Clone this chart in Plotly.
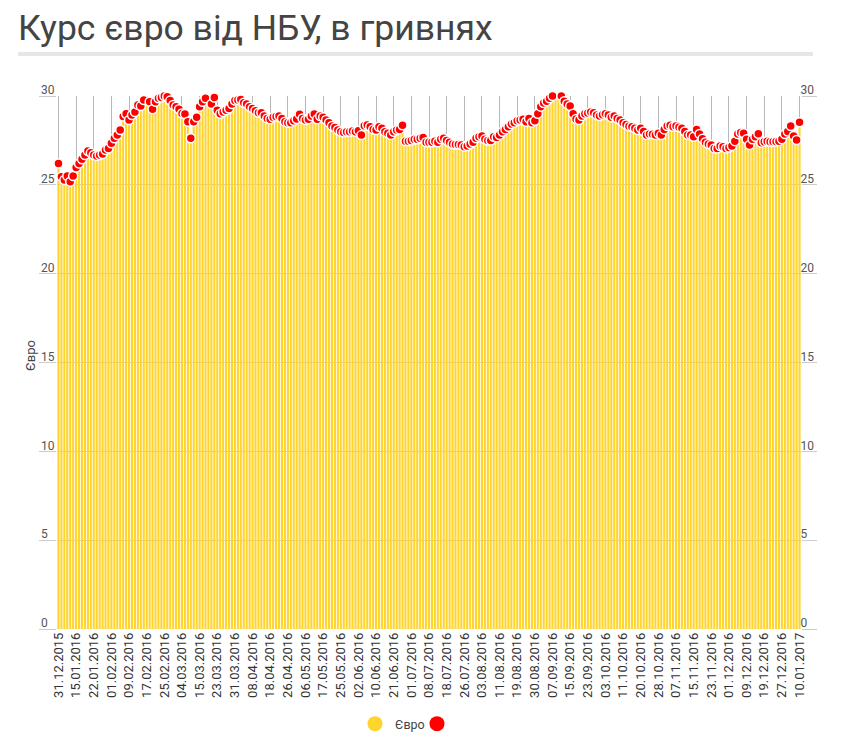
import plotly.graph_objects as go

# ---- data ----
dates_by_month = {
    "12.2015": [31],
    "01.2016": [5, 6, 11, 12, 14, 15, 16, 18, 19, 20, 21, 22, 25, 26, 27, 28, 29],
    "02.2016": [1, 2, 3, 4, 5, 8, 9, 10, 11, 12, 15, 16, 17, 18, 19, 22, 23, 24, 25, 26, 29],
    "03.2016": [1, 2, 3, 4, 7, 9, 10, 11, 14, 15, 16, 17, 18, 21, 22, 23, 24, 25, 28, 29, 30, 31],
    "04.2016": [1, 4, 5, 6, 7, 8, 11, 12, 13, 14, 15, 18, 19, 20, 21, 22, 25, 26, 27, 28, 29],
    "05.2016": [4, 5, 6, 10, 11, 12, 13, 16, 17, 18, 19, 20, 23, 24, 25, 26, 27, 30, 31],
    "06.2016": [1, 2, 3, 6, 7, 8, 9, 10, 13, 14, 15, 16, 17, 21, 22, 23, 24, 29, 30],
    "07.2016": [1, 2, 4, 5, 6, 7, 8, 11, 12, 13, 14, 15, 18, 19, 20, 21, 22, 25, 26, 27, 28, 29],
    "08.2016": [1, 2, 3, 4, 5, 8, 9, 10, 11, 12, 15, 16, 17, 18, 19, 22, 23, 25, 26, 29, 30, 31],
    "09.2016": [1, 2, 5, 6, 7, 8, 9, 12, 13, 14, 15, 16, 19, 20, 21, 22, 23, 26, 27, 28, 29, 30],
    "10.2016": [3, 4, 5, 6, 7, 10, 11, 12, 13, 17, 18, 19, 20, 21, 24, 25, 26, 27, 28, 31],
    "11.2016": [1, 2, 3, 4, 7, 8, 9, 10, 11, 14, 15, 16, 17, 18, 21, 22, 23, 24, 25, 28, 29, 30],
    "12.2016": [1, 2, 5, 6, 7, 8, 9, 12, 13, 14, 15, 16, 19, 20, 21, 22, 23, 26, 27, 28, 29, 30],
    "01.2017": [4, 5, 10],
}
dates = [f"{d:02d}.{m}" for m, days in dates_by_month.items() for d in days]

euro = [
    26.2, 25.46, 25.27, 25.5, 25.18, 25.5, 25.98,
    26.2, 26.44, 26.68, 26.9, 26.8, 26.68,
    26.62, 26.68, 26.74, 26.96, 27.05, 27.34,
    27.62, 27.8, 28.09, 28.84, 29.0, 28.65,
    28.93, 29.1, 29.5, 29.44, 29.77, 30.05,
    29.68, 29.25, 29.68, 29.87, 29.92, 30.0,
    29.96, 29.74, 29.5, 29.4, 29.25, 29.02,
    28.99, 28.55, 27.62, 28.55, 28.8, 29.4,
    29.68, 29.87, 30.1, 29.55, 29.92, 29.2,
    29.0, 29.1, 29.2, 29.3, 29.55, 29.74,
    29.77, 29.8, 29.62, 29.55, 29.4, 29.3,
    29.17, 29.06, 29.06, 28.87, 28.74, 28.69,
    28.8, 28.84, 28.87, 28.74, 28.55, 28.5,
    28.5, 28.6, 28.7, 28.97, 28.74, 28.65,
    28.69, 28.87, 28.99, 28.69, 28.87, 28.8,
    28.65, 28.5, 28.31, 28.22, 28.09, 27.99,
    27.94, 27.99, 27.99, 28.03, 27.99, 28.05,
    27.8, 28.33, 28.37, 28.27, 28.12, 28.09,
    28.27, 28.18, 27.99, 27.9, 27.8, 27.99,
    28.09, 28.12, 28.35, 27.46, 27.46, 27.5,
    27.56, 27.56, 27.62, 27.67, 27.4, 27.4,
    27.4, 27.46, 27.4, 27.56, 27.62, 27.5,
    27.4, 27.3, 27.27, 27.27, 27.24, 27.15,
    27.18, 27.3, 27.4, 27.62, 27.71, 27.75,
    27.56, 27.5, 27.5, 27.71, 27.67, 27.8,
    27.99, 28.12, 28.27, 28.42, 28.5, 28.6,
    28.65, 28.69, 28.55, 28.74, 28.5, 28.6,
    29.0, 29.4, 29.6, 29.7, 29.87, 30.0,
    30.05, 30.05, 30.0, 29.7, 29.55, 29.44,
    29.0, 28.7, 28.65, 28.87, 29.0, 29.05,
    29.1, 29.06, 28.93, 28.87, 28.95, 29.0,
    28.93, 28.8, 28.87, 28.74, 28.65, 28.5,
    28.4, 28.3, 28.27, 28.18, 28.09, 28.18,
    28.0, 27.8, 27.86, 27.85, 27.8, 27.9,
    27.8, 28.12, 28.31, 28.35, 28.27, 28.31,
    28.24, 28.18, 28.0, 27.8, 27.8, 27.71,
    28.12, 27.86, 27.6, 27.4, 27.3, 27.24,
    27.05, 27.05, 27.18, 27.14, 27.05, 27.1,
    27.18, 27.46, 27.86, 27.95, 27.9, 27.56,
    27.24, 27.56, 27.7, 27.88, 27.37, 27.42,
    27.46, 27.42, 27.42, 27.44, 27.46, 27.56,
    27.86, 28.0, 28.31, 27.75, 27.52, 28.52,
]

tick_labels = [
    "31.12.2015", "15.01.2016", "22.01.2016", "01.02.2016", "09.02.2016", "17.02.2016",
    "25.02.2016", "04.03.2016", "15.03.2016", "23.03.2016", "31.03.2016", "08.04.2016",
    "18.04.2016", "26.04.2016", "06.05.2016", "17.05.2016", "25.05.2016", "02.06.2016",
    "10.06.2016", "21.06.2016", "01.07.2016", "08.07.2016", "18.07.2016", "26.07.2016",
    "03.08.2016", "11.08.2016", "19.08.2016", "30.08.2016", "07.09.2016", "15.09.2016",
    "23.09.2016", "03.10.2016", "11.10.2016", "20.10.2016", "28.10.2016", "07.11.2016",
    "15.11.2016", "23.11.2016", "01.12.2016", "09.12.2016", "19.12.2016", "27.12.2016",
    "10.01.2017",
]
y_ticks = [0, 5, 10, 15, 20, 25, 30]

title_text = "Курс євро від НБУ, в гривнях"
series_name = "Євро"
axis_title = "Євро"

# ---- styling ----
YELLOW = "#FFD42C"
RED = "#FF0000"
FONT = "Roboto"
W, H = 852, 747
ML, MR, MT, MB = 57, 51, 96, 118
PW, PH = W - ML - MR, H - MT - MB


def px_x(px):
    return (px - ML) / PW


def px_y(py):
    return (H - MB - py) / PH


fig = go.Figure()
fig.add_trace(go.Bar(
    x=dates, y=euro, marker=dict(color=YELLOW, line=dict(width=0)),
    showlegend=False, name=series_name, hoverinfo="x+y",
))
fig.add_trace(go.Scatter(
    x=dates, y=euro, mode="markers", yaxis="y2", cliponaxis=False,
    marker=dict(color=RED, size=9, line=dict(color="white", width=1.5)),
    showlegend=False, name=series_name, hoverinfo="x+y",
))
# legend entries
fig.add_trace(go.Scatter(x=[None], y=[None], mode="markers", name=series_name,
                         marker=dict(color=YELLOW, size=15)))
fig.add_trace(go.Scatter(x=[None], y=[None], mode="markers", name=" ",
                         marker=dict(color=RED, size=15)))

yaxis_common = dict(
    range=[0, 30], tickmode="array", tickvals=y_ticks,
    ticks="outside", tickcolor="#cccccc", tickwidth=1,
    tickfont=dict(family=FONT, size=12, color="#555555"),
    zeroline=False, showline=False, fixedrange=True,
    ticklabelshift=-6, ticklabeloverflow="allow",
)

fig.update_layout(
    width=W, height=H,
    margin=dict(l=ML, r=MR, t=MT, b=MB, autoexpand=False),
    paper_bgcolor="white", plot_bgcolor="white",
    bargap=0.28,
    title=dict(text=title_text, x=18 / W, xanchor="left", xref="container",
               y=1 - 28 / H, yanchor="middle", yref="container",
               font=dict(family=FONT, size=35.5, color="#444444")),
    xaxis=dict(
        type="category", categoryorder="array", categoryarray=dates,
        range=[-0.5, len(dates) - 0.5],
        tickmode="array", tickvals=tick_labels, ticktext=tick_labels,
        tickangle=-90, showgrid=True, gridcolor="#b8b8b8", gridwidth=1,
        ticks="", showline=False, zeroline=False,
        tickfont=dict(family=FONT, size=13, color="#333333"),
    ),
    yaxis=dict(**yaxis_common, showgrid=True, gridcolor="#cccccc", gridwidth=1,
               ticklen=17, ticklabelposition="inside", ticklabelstandoff=-19),
    yaxis2=dict(**yaxis_common, overlaying="y", side="right", showgrid=False,
                ticklen=15, ticklabelstandoff=-19),
    legend=dict(orientation="h", x=px_x(355), xanchor="left",
                y=px_y(724), yanchor="middle", entrywidth=17,
                font=dict(family=FONT, size=12.5, color="#444444")),
    shapes=[dict(type="rect", xref="paper", yref="paper",
                 x0=px_x(18), x1=px_x(813), y0=px_y(56), y1=px_y(52),
                 fillcolor="#e6e6e6", line=dict(width=0))],
    annotations=[dict(text=axis_title, textangle=-90, xref="paper", yref="paper",
                      x=px_x(30), y=px_y(355), showarrow=False,
                      xanchor="center", yanchor="middle",
                      font=dict(family=FONT, size=13, color="#444444"))],
    hovermode="closest",
)

fig.write_html("out.html", config={"displayModeBar": False},
               post_script="document.body.style.margin='0px';")
